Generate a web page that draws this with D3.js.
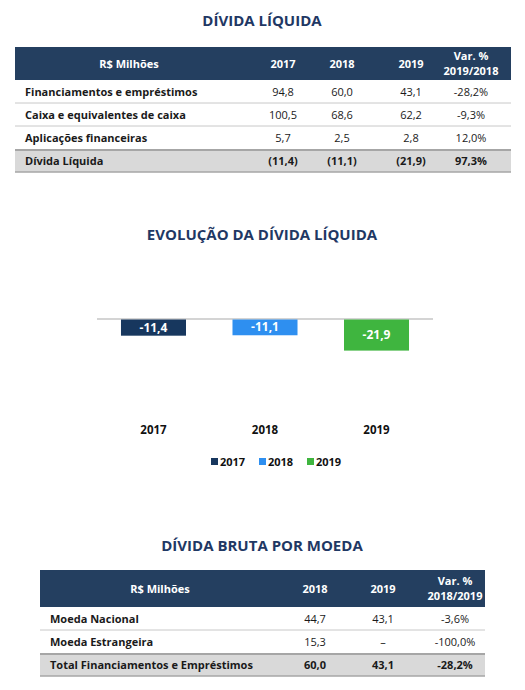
<!DOCTYPE html><html><head><meta charset="utf-8">
<script src="https://cdn.jsdelivr.net/npm/d3@7"></script>
<style>body{margin:0;background:#fff}svg{font-family:"Open Sans",sans-serif}</style></head><body>
<svg id="c" width="525" height="690"></svg>
<script>
const t1Headers=["R$ Milhões","2017","2018","2019","Var. %|2019/2018"];
const t1Rows=[["Financiamentos e empréstimos","94,8","60,0","43,1","-28,2%"],["Caixa e equivalentes de caixa","100,5","68,6","62,2","-9,3%"],["Aplicações financeiras","5,7","2,5","2,8","12,0%"]];
const t1Total=["Dívida Líquida","(11,4)","(11,1)","(21,9)","97,3%"];
const years=["2017","2018","2019"];
const netDebt=[-11.4,-11.1,-21.9];
const barColors=["#17375e","#2e8ff0","#3fb53f"];
const t2Headers=["R$ Milhões","2018","2019","Var. %|2018/2019"];
const t2Rows=[["Moeda Nacional","44,7","43,1","-3,6%"],["Moeda Estrangeira","15,3","–","-100,0%"]];
const t2Total=["Total Financiamentos e Empréstimos","60,0","43,1","-28,2%"];
const navy="#1f3864";
const svg=d3.select("#c");

function title(txt,x,y){svg.append("text").attr("x",x).attr("y",y).attr("text-anchor","middle").attr("font-size",15).attr("font-weight",700).attr("fill",navy).text(txt);}
function table(o){
  const {x0,x1,hy,hh,rh,headers,rows,total,labelCx,cols}=o;
  svg.append("rect").attr("x",x0).attr("y",hy).attr("width",x1-x0).attr("height",hh).attr("fill","#243f60");
  headers.forEach((h,i)=>{const cx=i==0?labelCx:cols[i-1];const parts=h.split("|");
    parts.forEach((p,j)=>svg.append("text").attr("x",cx).attr("y",hy+hh/2+4+(parts.length>1?(j-0.5)*15:0)).attr("text-anchor","middle").attr("font-size",11).attr("font-weight",700).attr("fill","#fff").text(p));});
  const all=rows.concat([total]);
  all.forEach((r,k)=>{const y=hy+hh+k*rh;const isT=k==rows.length;
    if(isT){svg.append("rect").attr("x",x0).attr("y",y).attr("width",x1-x0).attr("height",rh).attr("fill","#d9d9d9");
      svg.append("line").attr("x1",x0).attr("x2",x1).attr("y1",y+1).attr("y2",y+1).attr("stroke","#a6a6a6").attr("stroke-width",2);
      svg.append("line").attr("x1",x0).attr("x2",x1).attr("y1",y+rh).attr("y2",y+rh).attr("stroke","#a6a6a6").attr("stroke-width",1.5);}
    else if(k>0) svg.append("line").attr("x1",x0).attr("x2",x1).attr("y1",y).attr("y2",y).attr("stroke","#c8c8c8");
    r.forEach((v,i)=>svg.append("text").attr("x",i==0?x0+10:cols[i-1]).attr("y",y+rh/2+4).attr("text-anchor",i==0?"start":"middle")
      .attr("font-size",11).attr("font-weight",(i==0||isT)?700:400).attr("fill","#1a1a1a").text(v));});
}
title("DÍVIDA LÍQUIDA",262,26);
table({x0:15,x1:511,hy:47,hh:33,rh:23,headers:t1Headers,rows:t1Rows,total:t1Total,labelCx:129,cols:[283,342,411,471]});

title("EVOLUÇÃO DA DÍVIDA LÍQUIDA",262,240);
const x=d3.scaleBand().domain(years).range([97,433]).paddingInner(0.417).paddingOuter(0.215);
const y=d3.scaleLinear().domain([-30,0]).range([361.6,319]);
svg.append("line").attr("x1",97).attr("x2",433).attr("y1",y(0)).attr("y2",y(0)).attr("stroke","#aaa").attr("stroke-width",1.2);
years.forEach((yr,i)=>{
  svg.append("rect").attr("x",x(yr)).attr("y",y(0)+0.5).attr("width",x.bandwidth()).attr("height",y(netDebt[i])-y(0)).attr("fill",barColors[i]);
  svg.append("text").attr("x",x(yr)+x.bandwidth()/2).attr("y",(y(0)+y(netDebt[i]))/2+4.5).attr("text-anchor","middle").attr("font-size",12).attr("font-weight",700).attr("fill","#fff").text(String(netDebt[i]).replace(".",","));
  svg.append("text").attr("x",x(yr)+x.bandwidth()/2).attr("y",434).attr("text-anchor","middle").attr("font-size",11.5).attr("font-weight",700).attr("fill","#111").text(yr);
});
const lx=[211,259,307];
years.forEach((yr,i)=>{svg.append("rect").attr("x",lx[i]).attr("y",458).attr("width",7).attr("height",7).attr("fill",barColors[i]);
  svg.append("text").attr("x",lx[i]+9).attr("y",466).attr("font-size",11).attr("font-weight",700).attr("fill","#111").text(yr);});

title("DÍVIDA BRUTA POR MOEDA",262,551);
table({x0:40,x1:485,hy:570,hh:37,rh:23,headers:t2Headers,rows:t2Rows,total:t2Total,labelCx:160,cols:[315,383,455]});
</script></body></html>
